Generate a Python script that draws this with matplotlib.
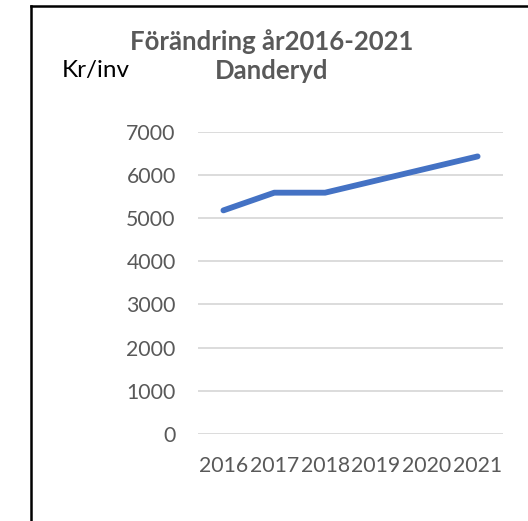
import matplotlib.pyplot as plt
from matplotlib.lines import Line2D

# data
years = ["2016", "2017", "2018", "2019", "2020", "2021"]
values = [5180, 5590, 5590, 5870, 6150, 6430]
yticks = [0, 1000, 2000, 3000, 4000, 5000, 6000, 7000]

plt.rcParams['font.family'] = ['Lato', 'DejaVu Sans']

fig = plt.figure(figsize=(5.28, 5.21), dpi=100)
ax = fig.add_axes([0.375, 0.167, 0.5777, 0.580])

x = range(len(years))
ax.plot(x, values, color="#4472C4", linewidth=4.2, solid_capstyle="round",
        solid_joinstyle="round")

ax.set_xlim(-0.5, len(years) - 0.5)
ax.set_ylim(0, 7000)
ax.set_yticks(yticks)
ax.set_xticks(list(x))
ax.set_xticklabels(years)
ax.grid(axis="y", color="#D9D9D9", linewidth=1.3)
ax.set_axisbelow(True)
for s in ax.spines.values():
    s.set_visible(False)
ax.tick_params(axis="both", length=0, labelsize=15.3, colors="#595959")
ax.tick_params(axis="y", pad=16)
ax.tick_params(axis="x", pad=16)

# titel och enhet
fig.text(0.515, 0.904, "Förändring år2016-2021", ha="center", va="baseline",
         fontsize=18.5, fontweight="bold", color="#595959")
fig.text(0.515, 0.849, "Danderyd", ha="center", va="baseline",
         fontsize=18.5, fontweight="bold", color="#595959")
fig.text(0.117, 0.852, "Kr/inv", ha="left", va="baseline",
         fontsize=17.5, color="black")

# ram (vänster och överkant)
fig.add_artist(Line2D([0.0587, 0.0587], [0, 0.989], color="black", linewidth=1.8))
fig.add_artist(Line2D([0.0587, 1.0], [0.989, 0.989], color="black", linewidth=1.8))

fig.savefig("out.png", dpi=100)
